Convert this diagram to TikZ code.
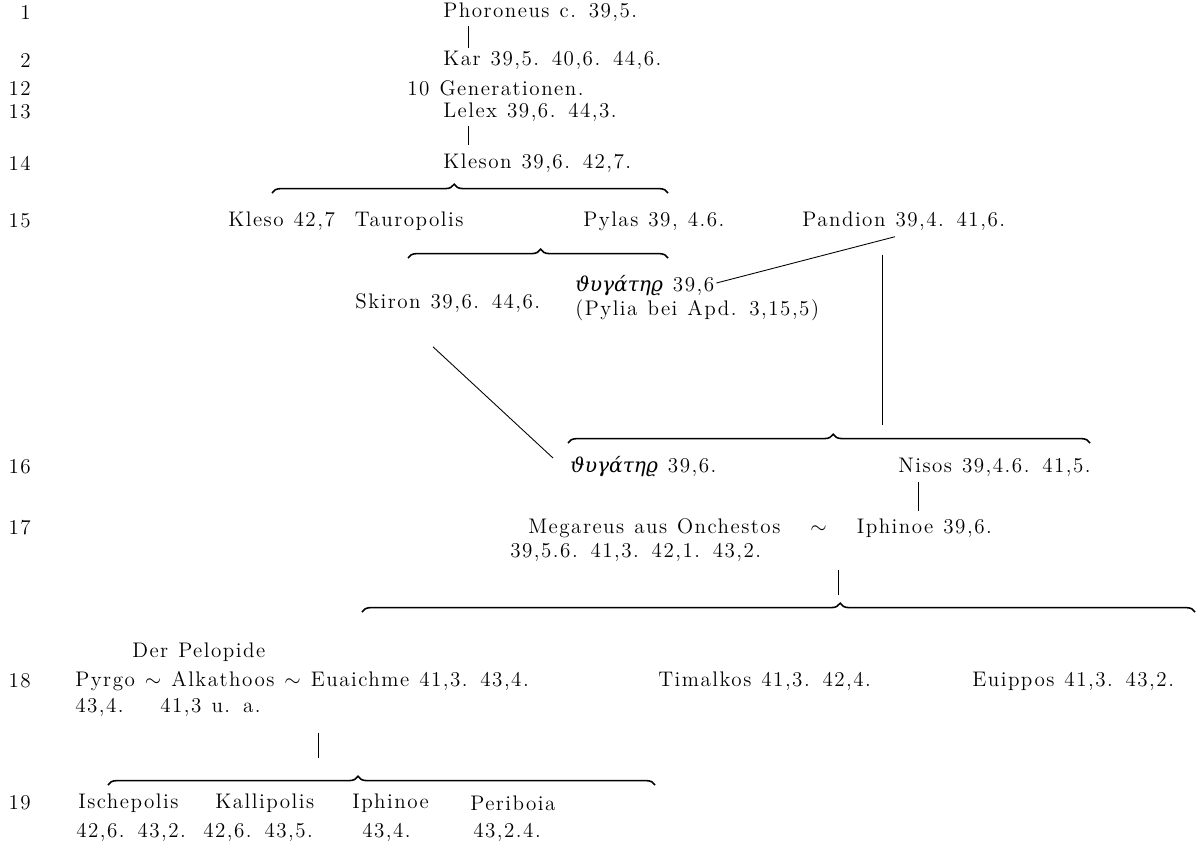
\documentclass[tikz,border=0pt]{standalone}
\usepackage{amsmath,amssymb}
\usepackage{fontspec}
\setmainfont{lmroman12-regular.otf}[
  ItalicFont=lmroman12-italic.otf,
  BoldFont=lmroman12-bold.otf,
  LetterSpace=7,
  WordSpace=1.2]
\newfontfamily\griech{DejaVu Serif}
\usepackage{tikz}
\usetikzlibrary{positioning,calc,decorations.pathreplacing}

\tikzset{
  zeile/.style={anchor=west, inner sep=0pt, font=\fontsize{12}{14}\selectfont},
  nr/.style={anchor=east, inner sep=0pt, font=\fontsize{12}{14}\selectfont},
  klammer/.style={decorate, decoration={brace, amplitude=5pt, aspect=#1}, line width=0.9pt},
  klammer/.default=0.5,
  strich/.style={line width=0.5pt}
}
\newcommand{\thyg}{{\griech\itshape\fontsize{11.5}{14}\selectfont ϑυγάτηϱ}}

\begin{document}
\begin{tikzpicture}[x=0.02cm, y=-0.02cm]
    \useasboundingbox (0,0) rectangle (1199,866);
    % Generationen
    \foreach \n/\y in {1/12, 2/60, 12/88, 13/112, 14/163, 15/221, 16/467, 17/528, 18/681, 19/803}
        \node[nr] (nr\n) at (31,\y) {\n};

    % Phoroneus bis Kleson
    \node[zeile] (phor) at (443,12) {Phoroneus c. 39,5.};
    \node[zeile] (kar) at (443,60) {Kar 39,5. 40,6. 44,6.};
    \node[zeile] (gen) at (407,88) {10 Generationen.};
    \node[zeile] (lelex) at (443,112) {Lelex 39,6. 44,3.};
    \node[zeile] (kleson) at (443,163) {Kleson 39,6. 42,7.};
    \draw[strich] ([shift={(25,4)}]phor.south west) -- ([shift={(25,-2)}]kar.north west);
    \draw[strich] ([shift={(25,4)}]lelex.south west) -- ([shift={(25,-8)}]kleson.north west);

    % Kinder des Kleson
    \draw[klammer=0.46] (272,193) -- (668,193);
    \node[zeile] (kleso) at (228,221) {Kleso 42,7 \ Tauropolis};
    \node[zeile] (pylas) at (583,221) {Pylas 39, 4.6.};
    \node[zeile] (pand) at (802,221) {Pandion 39,4. 41,6.};
    \draw[klammer=0.51] (408,258) -- (668,258);

    \node[zeile] (thyga) at (575,286) {\thyg\ 39,6};
    \node[zeile] (pylia) at (575,310) {(Pylia bei Apd. 3,15,5)};
    \node[zeile] (skiron) at (355,303) {Skiron 39,6. 44,6.};
    \draw[strich] ([shift={(2,-3)}]thyga.east) -- ([shift={(93,6)}]pand.south west);
    \draw[strich] ([shift={(80,24)}]pand.south west) -- ++(0,170);

    % Nisos und die Tochter des Skiron
    \draw[klammer=0.508] (568,443) -- (1090,443);
    \node[zeile] (thygb) at (570,467) {\thyg\ 39,6.};
    \node[zeile] (nisos) at (898,467) {Nisos 39,4.6. 41,5.};
    \draw[strich] ([shift={(78,34)}]skiron.south west) -- ([shift={(-17,-9)}]thygb.west);
    \draw[strich] ([shift={(20,5)}]nisos.south west) -- ++(0,29);

    % Megareus
    \node[zeile] (megar) at (528,528) {Megareus aus Onchestos \ \ $\sim$\ \ \ Iphinoe 39,6.};
    \node[zeile] (megarb) at (510,552) {39,5.6. 41,3. 42,1. 43,2.};
    \draw[strich] ([shift={(328,8)}]megarb.south west) -- ++(0,25);
    \draw[klammer=0.574] (362,612) -- (1195,612);

    % Kinder des Megareus
    \node[zeile] (derpel) at (132,652) {Der Pelopide};
    \node[zeile] (alkath) at (75,681) {Pyrgo $\sim$ Alkathoos $\sim$ Euaichme 41,3. 43,4.};
    \node[zeile] (alkathb) at (75,707) {43,4.};
    \node[zeile] (alkathc) at (160,707) {41,3 u. a.};
    \node[zeile] (timal) at (658,681) {Timalkos 41,3. 42,4.};
    \node[zeile] (euipp) at (972,681) {Euippos 41,3. 43,2.};
    \draw[strich] ([shift={(158,16)}]alkathc.south west) -- ++(0,25);
    \draw[klammer=0.457] (108,785) -- (655,785);

    % Kinder des Alkathoos
    \node[zeile] (isch) at (78,803) {Ischepolis};
    \node[zeile] (ischb) at (76,832) {42,6. 43,2.};
    \node[zeile] (kalli) at (215,803) {Kallipolis};
    \node[zeile] (kallib) at (203,832) {42,6. 43,5.};
    \node[zeile] (iphi) at (352,803) {Iphinoe};
    \node[zeile] (iphib) at (362,832) {43,4.};
    \node[zeile] (peri) at (470,803) {Periboia};
    \node[zeile] (perib) at (473,832) {43,2.4.};
\end{tikzpicture}
\end{document}
